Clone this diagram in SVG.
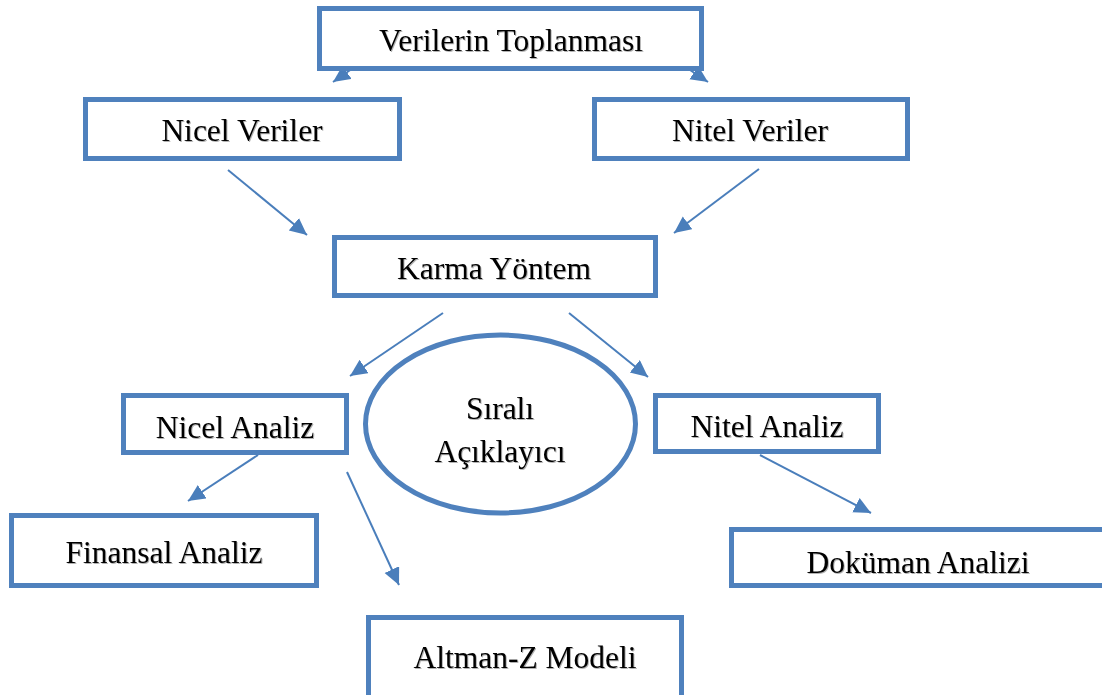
<svg xmlns="http://www.w3.org/2000/svg" width="1102" height="695" viewBox="0 0 1102 695">
<style>
.box{fill:#fff;stroke:#4F81BD;stroke-width:5}
.lbl{font-family:"Liberation Serif","Times New Roman",serif;font-size:31.5px;fill:#000;text-anchor:middle;filter:url(#sh)}
.con{stroke:#4A7EBB;stroke-width:2;fill:none;marker-end:url(#ah)}
</style>
<defs>
<marker id="ah" markerUnits="userSpaceOnUse" markerWidth="20" markerHeight="18" refX="17" refY="8" orient="auto">
<path d="M0,0 L17,8 L0,16 Z" fill="#4A7EBB"/>
</marker>
<filter id="sh" x="-5%" y="-20%" width="110%" height="140%">
<feDropShadow dx="1" dy="1" stdDeviation="0.7" flood-color="#000" flood-opacity="0.3"/>
</filter>
</defs>
<rect width="1102" height="695" fill="#fff"/>
<g id="connectors">
<line class="con" x1="356" y1="66" x2="333" y2="82"/>
<line class="con" x1="684" y1="66" x2="708" y2="82"/>
<line class="con" x1="228" y1="170" x2="307" y2="235"/>
<line class="con" x1="759" y1="169" x2="674" y2="233"/>
<line class="con" x1="443" y1="313" x2="350" y2="376"/>
<line class="con" x1="569" y1="313" x2="648" y2="377"/>
<line class="con" x1="258" y1="455" x2="188" y2="501"/>
<line class="con" x1="347" y1="472" x2="399" y2="585"/>
<line class="con" x1="760" y1="455" x2="871" y2="513"/>
</g>
<g id="n-verilerin">
<rect class="box" x="319.5" y="8.5" width="382" height="60"/>
<text class="lbl" x="511" y="51">Verilerin Toplanması</text>
</g>
<g id="n-nicel-veriler">
<rect class="box" x="85.5" y="99.5" width="314" height="59"/>
<text class="lbl" x="242" y="141">Nicel Veriler</text>
</g>
<g id="n-nitel-veriler">
<rect class="box" x="594.5" y="99.5" width="313" height="59"/>
<text class="lbl" x="750" y="141">Nitel Veriler</text>
</g>
<g id="n-karma">
<rect class="box" x="334.5" y="237.5" width="321" height="58"/>
<text class="lbl" x="494" y="279">Karma Yöntem</text>
</g>
<g id="n-sirali">
<ellipse cx="500.5" cy="424" rx="135" ry="89" fill="#fff" stroke="#4F81BD" stroke-width="5"/>
<text class="lbl" x="500" y="419">Sıralı</text>
<text class="lbl" x="500" y="462">Açıklayıcı</text>
</g>
<g id="n-nicel-analiz">
<rect class="box" x="123.5" y="395.5" width="223" height="57"/>
<text class="lbl" x="235" y="438">Nicel Analiz</text>
</g>
<g id="n-nitel-analiz">
<rect class="box" x="655.5" y="395.5" width="223" height="56"/>
<text class="lbl" x="767" y="437">Nitel Analiz</text>
</g>
<g id="n-finansal">
<rect class="box" x="11.5" y="515.5" width="305" height="70"/>
<text class="lbl" x="164" y="563">Finansal Analiz</text>
</g>
<g id="n-dokuman">
<rect class="box" x="731.5" y="529.5" width="380" height="56"/>
<text class="lbl" x="918" y="573">Doküman Analizi</text>
</g>
<g id="n-altman">
<rect class="box" x="368.5" y="617.5" width="313" height="90"/>
<text class="lbl" x="525" y="668">Altman-Z Modeli</text>
</g>
</svg>
